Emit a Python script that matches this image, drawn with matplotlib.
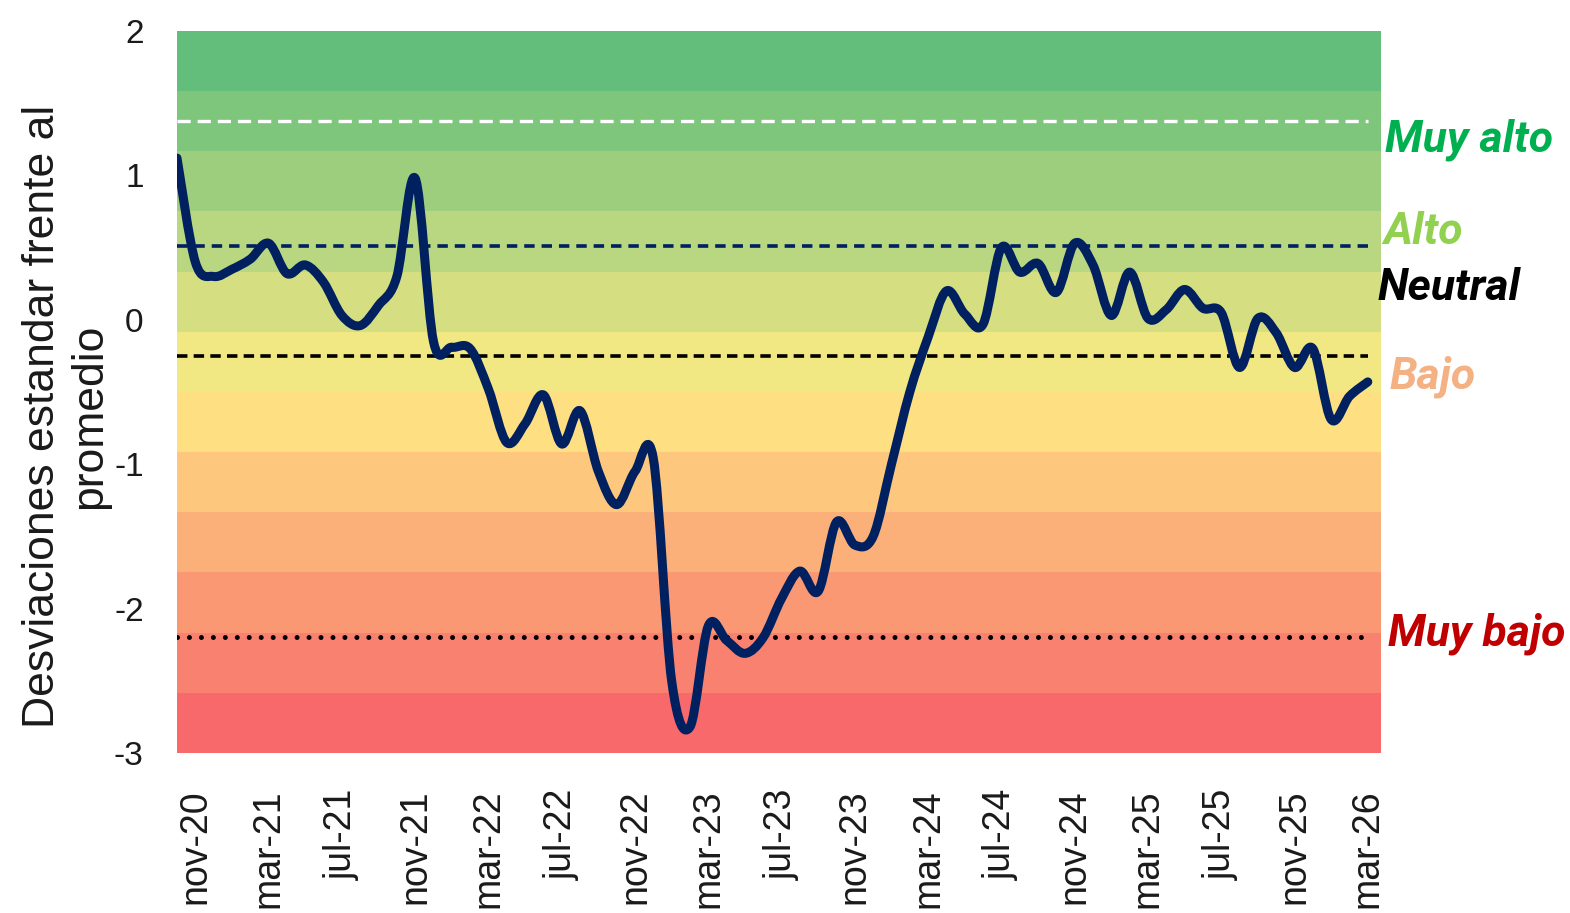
import numpy as np
import matplotlib.pyplot as plt
from matplotlib.path import Path
from matplotlib.patches import PathPatch

plt.rcParams['lines.scale_dashes'] = False

# monthly index: oct-20 (0) ... mar-26 (65)
values = [1.12, 0.40, 0.30, 0.35, 0.42, 0.53, 0.32, 0.38, 0.26, 0.03,
          -0.04, 0.10, 0.30, 0.98, -0.15, -0.19, -0.20, -0.48, -0.85, -0.72,
          -0.52, -0.86, -0.63, -1.05, -1.28, -1.05, -0.96, -2.50, -2.82, -2.12,
          -2.22, -2.31, -2.20, -1.93, -1.74, -1.88, -1.40, -1.56, -1.50, -1.00,
          -0.50, -0.12, 0.20, 0.04, -0.03, 0.50, 0.33, 0.39, 0.19, 0.53,
          0.38, 0.03, 0.33, 0.01, 0.07, 0.21, 0.08, 0.05, -0.33, 0.01,
          -0.09, -0.33, -0.20, -0.69, -0.53, -0.43]
months = np.arange(len(values))

tick_pos = [1, 5, 9, 13, 17, 21, 25, 29, 33, 37, 41, 45, 49, 53, 57, 61, 65]
tick_labels = ['nov-20', 'mar-21', 'jul-21', 'nov-21', 'mar-22', 'jul-22',
               'nov-22', 'mar-23', 'jul-23', 'nov-23', 'mar-24', 'jul-24',
               'nov-24', 'mar-25', 'jul-25', 'nov-25', 'mar-26']

ref_levels = [1.38, 0.51, -0.25, -2.20]

band_colors = ['#63BE7B', '#7FC67D', '#9CCE7E', '#B8D780', '#D5DF82', '#F1E783',
               '#FEDF82', '#FDC87D', '#FCB079', '#FB9874', '#F98170', '#F8696B']

cat_names = ['Muy alto', 'Alto', 'Neutral', 'Bajo', 'Muy bajo']
cat_colors = ['#00B050', '#92D050', '#000000', '#F4B183', '#C00000']
cat_px = [(1385, 140), (1383, 232), (1378, 288), (1390, 377), (1388, 634)]

W, H = 1570, 913
fig = plt.figure(figsize=(W / 100, H / 100), dpi=100)
ax = fig.add_axes([177 / W, 1 - 753 / H, (1381 - 177) / W, (753 - 31) / H])

edges = np.linspace(2, -3, len(band_colors) + 1)
for i, c in enumerate(band_colors):
    ax.axhspan(edges[i + 1], edges[i], color=c, lw=0, zorder=0)

# reference lines
x0, x1 = months[0], months[-1]
ax.plot([x0, x1], [ref_levels[0]] * 2, color='white', lw=2.4, dashes=(9.5, 5), zorder=2)
ax.plot([x0, x1], [ref_levels[1]] * 2, color='#002060', lw=2.6, dashes=(7.5, 5), zorder=2)
ax.plot([x0, x1], [ref_levels[2]] * 2, color='black', lw=2.6, dashes=(7.5, 4.5), zorder=2)
ax.plot([x0, x1], [ref_levels[3]] * 2, color='black', lw=3.6, dashes=(0.01, 8.6),
        dash_capstyle='round', zorder=2)

# smoothed line (Catmull-Rom as bezier, like excel smoothing)
pts = np.column_stack([months, values]).astype(float)
ext = np.vstack([pts[0], pts, pts[-1]])
verts = [pts[0]]
codes = [Path.MOVETO]
for i in range(len(pts) - 1):
    p0, p1, p2, p3 = ext[i], ext[i + 1], ext[i + 2], ext[i + 3]
    c1 = p1 + (p2 - p0) / 6
    c2 = p2 - (p3 - p1) / 6
    verts += [c1, c2, p2]
    codes += [Path.CURVE4] * 3
patch = PathPatch(Path(verts, codes), facecolor='none', edgecolor='#002060',
                  lw=6.5, capstyle='round', joinstyle='round', zorder=3)
ax.add_patch(patch)

ax.set_xlim(0, 65.72)
ax.set_ylim(-3, 2)
for s in ax.spines.values():
    s.set_visible(False)
ax.set_yticks(range(-3, 3))
ax.set_yticklabels([str(v) for v in range(-3, 3)], fontsize=24,
                   family='Liberation Sans', color='#1a1a1a')
ax.set_xticks(tick_pos)
ax.set_xticklabels(tick_labels, rotation=90, fontsize=27,
                   family='Liberation Sans', color='#1a1a1a')
ax.tick_params(axis='y', length=0, pad=24)
ax.tick_params(axis='x', length=0, pad=26)

fig.text(66 / W, 1 - 416 / H, 'Desviaciones estandar frente al\npromedio',
         rotation=90, ha='center', va='center', multialignment='center',
         fontsize=32, family='Liberation Sans', color='#1a1a1a', linespacing=1.2)

for name, col, (px, py) in zip(cat_names, cat_colors, cat_px):
    fig.text(px / W, 1 - py / H, name, ha='left', va='center', color=col,
             fontsize=32, family='Roboto', fontweight='bold', fontstyle='italic')

fig.savefig('out.png', dpi=100)
